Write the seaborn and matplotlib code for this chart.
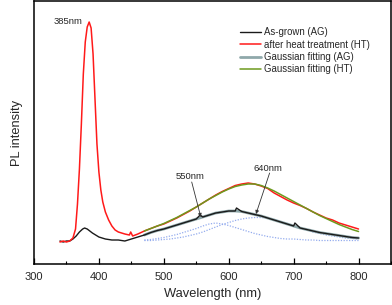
import numpy as np
import pandas as pd
import matplotlib
matplotlib.use("Agg")
import matplotlib.pyplot as plt
import seaborn as sns
from matplotlib.ticker import MultipleLocator

# ---- data (arbitrary intensity units) ----
wl_ht = [340, 345, 350, 355, 360, 364, 367, 370, 373, 376, 379, 382, 385, 388,
         391, 394, 397, 400, 403, 406, 410, 415, 420, 425, 430, 440, 447, 449,
         452, 460, 470, 480, 490, 500, 510, 520, 530, 540, 550, 560, 570, 580,
         590, 600, 610, 620, 630, 640, 650, 660, 670, 680, 690, 700, 710, 720,
         730, 740, 750, 760, 770, 780, 790, 800]
pl_ht = [22, 23, 22, 23, 26, 35, 60, 95, 140, 190, 222, 237, 242, 236,
         210, 165, 120, 92, 74, 62, 52, 44, 38, 34, 32, 30, 29, 32,
         28, 30, 33, 35.5, 38, 40, 43, 46, 49.5, 53, 57, 61, 65, 69,
         72.5, 75.5, 78.5, 80, 81, 80, 78, 75.5, 71, 67.5, 64, 61, 58.5, 55.5,
         52, 49, 46, 44, 41, 39, 37, 35]

wl_ag = [340, 345, 350, 355, 360, 365, 370, 375, 378, 382, 386, 390, 395, 400,
         410, 420, 430, 440, 450, 460, 470, 480, 490, 500, 510, 520, 530, 540,
         550, 556, 560, 570, 580, 590, 600, 610, 612, 620, 630, 640, 650, 660,
         670, 680, 690, 700, 702, 710, 720, 730, 740, 750, 760, 770, 780, 790,
         800]
pl_ag = [23, 22, 23, 23, 25, 28, 32, 35, 36, 35, 33, 31, 29, 27,
         25, 24, 24, 23, 25, 27, 29, 31.5, 33.5, 35, 37, 39, 41, 43,
         45, 49, 47, 49, 51, 52, 53, 53, 56, 52.5, 51, 49.5, 48, 46,
         44, 42, 40, 38, 41, 36, 34.5, 33, 31.5, 30.5, 29.5, 28.5, 27.5, 26.5,
         26]

wl_fit = [470, 480, 490, 500, 510, 520, 530, 540, 550, 560, 570, 580, 590,
          600, 610, 620, 630, 640, 650, 660, 670, 680, 690, 700, 710, 720,
          730, 740, 750, 760, 770, 780, 790, 800]
fit_ht = [33, 35.5, 38, 40.5, 43.5, 46.5, 50, 53.5, 57, 61, 65, 68.5, 72,
          75, 77.5, 79, 80, 80, 78.5, 76, 73, 69.5, 66, 62.5, 59, 55.5,
          52, 48.5, 45.5, 42.5, 39.5, 37, 34.5, 32.5]
fit_ag = [29, 31.5, 33.5, 35, 37, 39, 41, 43, 45, 47, 49, 51, 52,
          53, 53, 52.5, 51, 49.5, 48, 46, 44, 42, 40, 38, 36, 34.5,
          33, 31.5, 30.5, 29.5, 28.5, 27.5, 26.5, 26]
gauss1 = [24, 24.5, 25.5, 26.5, 28, 29.5, 31.5, 33.5, 35.5, 38, 40, 41, 40,
          38.5, 36.5, 34.5, 32.5, 30.5, 29, 27.5, 26.5, 25.5, 25, 25, 24.5, 24,
          24, 23.5, 23.5, 23.5, 23.5, 23.5, 23.5, 23.5]
gauss2 = [23.5, 23.5, 24, 24.5, 25, 26, 27, 28.5, 30, 32, 34.5, 37, 39.5,
          41.5, 43.5, 45, 46, 46.5, 46.5, 46, 44.5, 42.5, 40.5, 38, 36, 34,
          32, 30.5, 29, 28, 27, 26, 25.5, 25]

labels = ["As-grown (AG)", "after heat treatment (HT)",
          "Gaussian fitting (AG)", "Gaussian fitting (HT)"]

sns.set_theme(style="ticks")
plt.rcParams["font.family"] = ["Liberation Sans", "DejaVu Sans"]

fig = plt.figure(figsize=(3.92, 3.05), dpi=100)
ax = fig.add_axes([0.0867, 0.1344, 0.9107, 0.8623])

# fits under the measured curves
sns.lineplot(x=wl_fit, y=gauss1, ax=ax, color="#94acee", lw=0.9,
             linestyle=(0, (1, 1.2)), legend=False)
sns.lineplot(x=wl_fit, y=gauss2, ax=ax, color="#94acee", lw=0.9,
             linestyle=(0, (1, 1.2)), legend=False)
sns.lineplot(x=wl_fit, y=fit_ag, ax=ax, color="#8fa8aa", lw=2.0, label=labels[2])
sns.lineplot(x=wl_ag, y=pl_ag, ax=ax, color="#1a1a1a", lw=1.0, label=labels[0])
sns.lineplot(x=wl_ht, y=pl_ht, ax=ax, color="#ff1a1a", lw=1.1, label=labels[1])
sns.lineplot(x=wl_fit, y=fit_ht, ax=ax, color="#6d9a1e", lw=1.1, label=labels[3])

ax.set_xlim(300, 850)
ax.set_ylim(0, 263)
ax.set_yticks([])
ax.xaxis.set_minor_locator(MultipleLocator(50))
ax.set_xticks([300, 400, 500, 600, 700, 800])
ax.tick_params(axis="x", which="major", direction="in", length=4, width=0.9,
               labelsize=8, pad=6, top=False, color="black")
ax.tick_params(axis="x", which="minor", direction="in", length=2.5, width=0.8,
               top=False, color="black")
for sp in ax.spines.values():
    sp.set_linewidth(1.1)
    sp.set_color("black")
ax.set_xlabel("Wavelength (nm)", fontsize=9.3, labelpad=4)
ax.set_ylabel("PL intensity", fontsize=9.3, labelpad=8)

# peak annotations
ax.text(353, 243, "385nm", fontsize=6.8, ha="center", va="center")
ax.text(541, 88, "550nm", fontsize=6.8, ha="center", va="center")
ax.text(660, 96, "640nm", fontsize=6.8, ha="center", va="center")
arrow = dict(arrowstyle="-|>", lw=0.6, color="#333333", mutation_scale=5,
             shrinkA=0, shrinkB=0)
ax.annotate("", xy=(557, 47), xytext=(543, 82), arrowprops=arrow)
ax.annotate("", xy=(642, 50), xytext=(663, 91), arrowprops=arrow)

handles, labs = ax.get_legend_handles_labels()
order = [labs.index(l) for l in labels]
ax.legend([handles[i] for i in order], labels, loc="upper left",
          bbox_to_anchor=(0.577, 0.90), frameon=False, fontsize=6.9,
          handlelength=2.2, handletextpad=0.3, labelspacing=0.25,
          borderpad=0, borderaxespad=0)

fig.savefig("out.png", dpi=100)
